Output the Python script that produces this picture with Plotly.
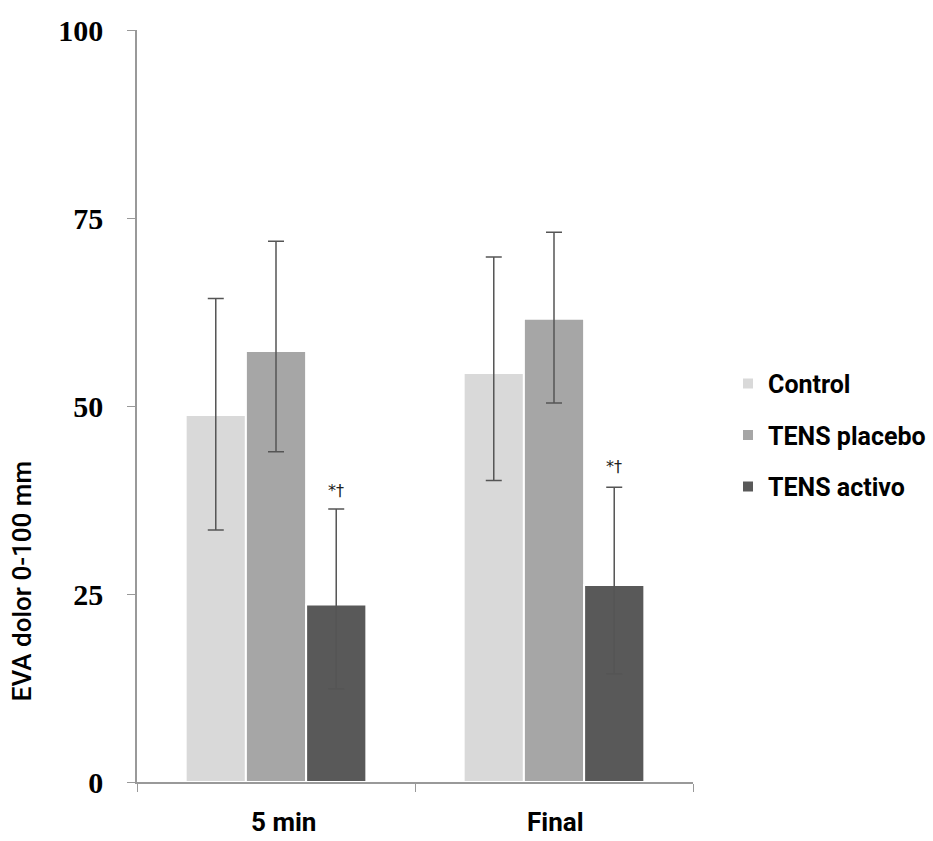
import plotly.graph_objects as go

categories = ["5 min", "Final"]
series_names = ["Control", "TENS placebo", "TENS activo"]
means = {
    "Control": [48.8, 54.4],
    "TENS placebo": [57.3, 61.6],
    "TENS activo": [23.6, 26.2],
}
err_plus = {
    "Control": [15.5, 15.4],
    "TENS placebo": [14.6, 11.5],
    "TENS activo": [12.7, 13.0],
}
err_minus = {
    "Control": [15.3, 14.3],
    "TENS placebo": [13.4, 11.2],
    "TENS activo": [11.2, 11.8],
}
colors = {"Control": "#d9d9d9", "TENS placebo": "#a6a6a6", "TENS activo": "#595959"}
sig_label = "*†"
sig_y = [38.8, 41.9]
y_ticks = [0, 25, 50, 75, 100]
y_title = "EVA dolor 0-100 mm"

fig = go.Figure()
for i, name in enumerate(series_names):
    fig.add_trace(go.Bar(
        name=name,
        x=categories,
        y=means[name],
        marker=dict(color=colors[name], line=dict(color="white", width=2)),
        error_y=dict(type="data", symmetric=False, array=err_plus[name],
                     arrayminus=err_minus[name], color="#555555", thickness=1.5, width=8),
        legendgroup=name,
    ))

for cat, yv in zip(categories, sig_y):
    fig.add_annotation(x=cat, y=yv, xref="x", yref="y", text=sig_label, showarrow=False,
                       xshift=60, yanchor="middle",
                       font=dict(family="DejaVu Sans", size=16, color="#222222"))

for cat, sh in zip(categories, [7, 1]):
    fig.add_annotation(x=cat, y=0, xref="x", yref="paper", text=f"<b>{cat}</b>", showarrow=False,
                       xshift=sh, yshift=-57, yanchor="bottom",
                       font=dict(family="Roboto", size=26, color="black"))

fig.add_annotation(x=0, y=0.267, xref="paper", yref="paper", text=y_title,
                   textangle=-90, showarrow=False, xshift=-115, xanchor="center", yanchor="middle",
                   font=dict(family="Roboto", size=26, color="black", weight=500))

fig.update_layout(
    width=933, height=841,
    margin=dict(l=137, r=240, t=30, b=59, autoexpand=False),
    paper_bgcolor="white", plot_bgcolor="white",
    barmode="group", bargap=0.35, bargroupgap=0.0,
    showlegend=True,
    legend=dict(x=1.063, y=0.461, xanchor="left", yanchor="middle",
                font=dict(family="Roboto", size=25, color="black", weight="bold"),
                tracegroupgap=16, itemwidth=30),
    xaxis=dict(showline=True, linecolor="#999999", linewidth=1.5, ticks="outside",
               tickson="boundaries", ticklen=8, tickcolor="#999999", showticklabels=False,
               showgrid=False, zeroline=False),
    yaxis=dict(range=[0, 100], tickvals=y_ticks, showline=True, linecolor="#999999", linewidth=1.5,
               ticks="outside", ticklen=8, tickcolor="#999999", showgrid=False, zeroline=False,
               tickfont=dict(family="Liberation Serif", size=30, color="black", weight="bold"),
               ticklabelstandoff=18),
)

fig.write_html("out.html")
